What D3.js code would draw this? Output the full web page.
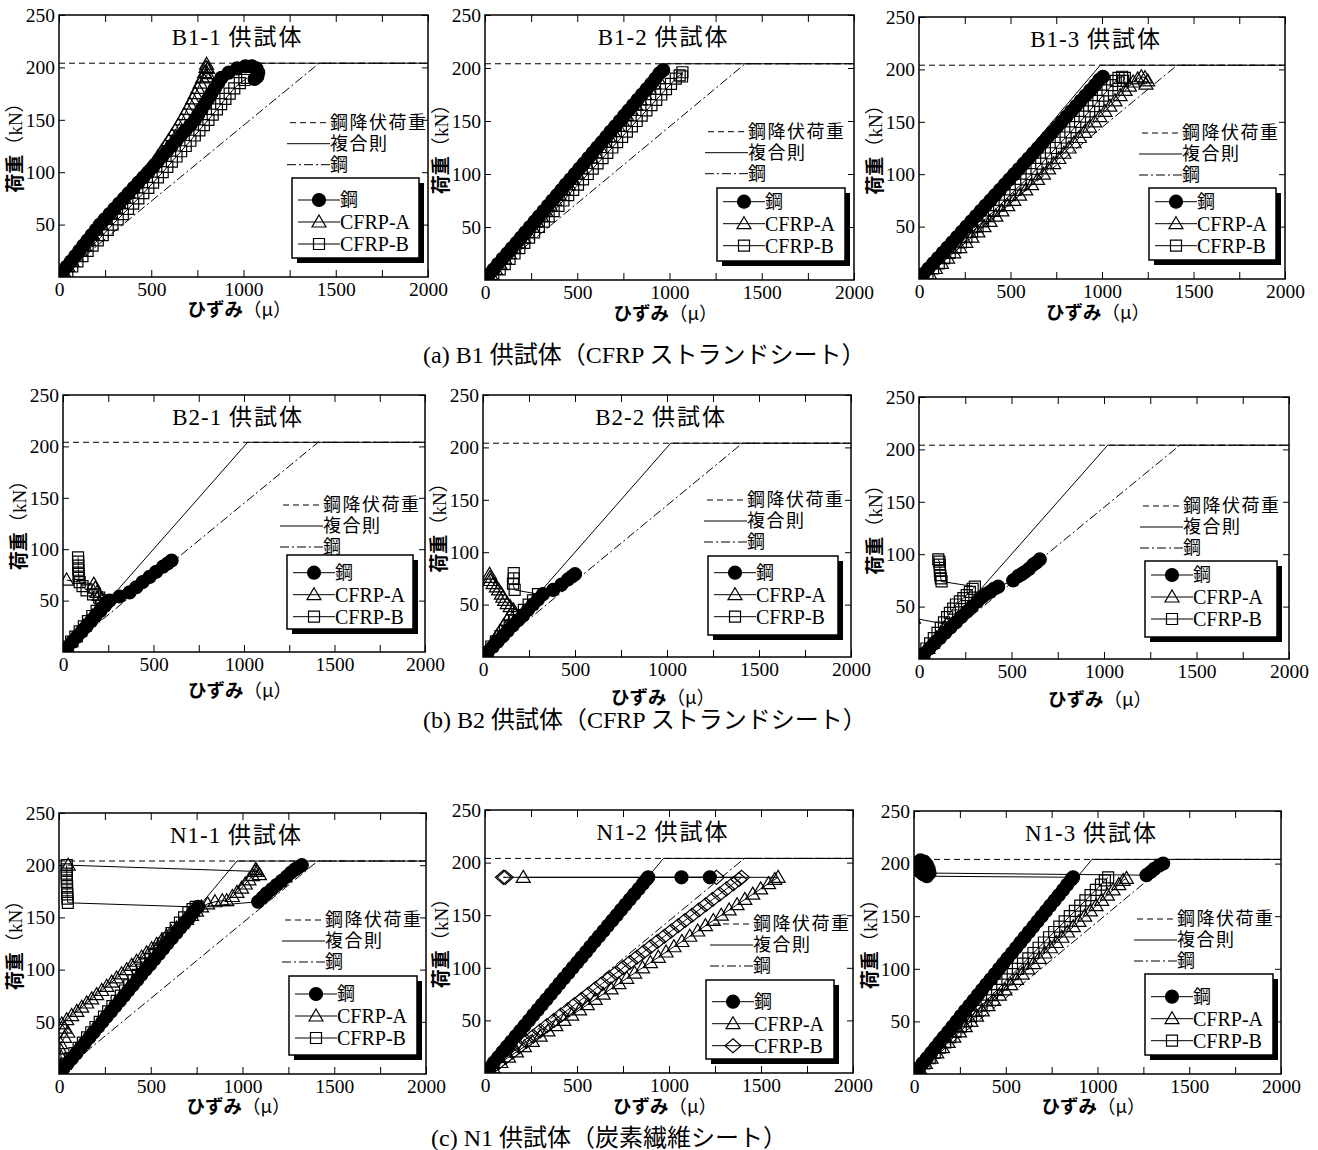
<!DOCTYPE html>
<html lang="ja">
<head>
<meta charset="utf-8">
<script src="https://cdn.jsdelivr.net/npm/d3@7"></script>
<style>
  body { margin: 0; background: #fff; }
  svg text { fill: #000; }
</style>
</head>
<body>
<svg id="fig" width="1318" height="1150"></svg>
<script>
// ---- common values (kN, micro strain) ----
var yieldLoad = 204;          // 鋼降伏荷重
var steelYieldStrain = 1410;  // 鋼 line reaches yield here
var compYieldStrain = [990, 1020, 970]; // 複合則, per row (B1, B2, N1)
var xTicks = [0, 250, 500, 750, 1000, 1250, 1500, 1750, 2000];
var yTicks = [50, 100, 150, 200, 250];
var lineLegendLabels = ["鋼降伏荷重", "複合則", "鋼"];
var boxLegendLabels = ["鋼", "CFRP-A", "CFRP-B"];
var captions = ["(a) B1 供試体（CFRP ストランドシート）", "(b) B2 供試体（CFRP ストランドシート）", "(c) N1 供試体（炭素繊維シート）"];

// ---- B1-1 ----
var b11Steel = [[0,0],[20,5],[42,10],[65,15],[88,20],[110,25],[132,30],[155,35],[177,40],[200,45],[222,50],[248,55],[274,60],[300,65],[326,70],[352,75],[378,80],[404,85],[430,90],[457,95],[484,100],[510,105],[535,110],[560,115],[585,120],[610,125],[636,130],[661,135],[686,140],[712,145],[737,150],[755,155],[773,160],[791,165],[809,170],[826,175],[845,180],[863,185],[880,190],[920,195],[965,199],[1010,201],[1045,201],[1070,199],[1080,195],[1075,191],[1060,189]];
var b11A = [[0,0],[25,5],[48,10],[70,15],[93,20],[115,25],[137,30],[160,35],[182,40],[205,45],[227,50],[252,55],[277,60],[302,65],[327,70],[352,75],[376,80],[400,85],[424,90],[448,95],[472,100],[495,105],[518,110],[537,115],[556,120],[575,125],[594,130],[612,135],[630,140],[647,145],[664,150],[680,155],[695,160],[710,165],[724,170],[738,175],[752,180],[765,185],[778,190],[789,195],[797,200],[800,203],[806,199],[804,194],[800,191]];
var b11B = [[20,0],[45,5],[72,10],[100,15],[127,20],[155,25],[182,30],[210,35],[237,40],[264,45],[290,50],[318,55],[346,60],[374,65],[402,70],[430,75],[457,80],[484,85],[510,90],[536,95],[562,100],[587,105],[612,110],[637,115],[662,120],[687,125],[712,130],[736,135],[761,140],[785,145],[810,150],[833,155],[856,160],[879,165],[902,170],[925,175],[950,180],[980,185],[1005,188],[1020,190]];

// ---- B1-2 ----
var b12Steel = [[0,0],[22,5],[46,10],[70,15],[95,20],[120,25],[145,30],[170,35],[195,40],[219,45],[243,50],[268,55],[292,60],[317,65],[341,70],[365,75],[390,80],[414,85],[438,90],[463,95],[487,100],[511,105],[536,110],[560,115],[584,120],[608,125],[633,130],[657,135],[681,140],[706,145],[730,150],[754,155],[778,160],[803,165],[827,170],[851,175],[876,180],[900,185],[924,190],[946,195],[966,198]];
var b12A = [[0,0],[32,5],[57,10],[82,15],[107,20],[132,25],[157,30],[182,35],[207,40],[231,45],[256,50],[280,55],[305,60],[329,65],[354,70],[378,75],[403,80],[427,85],[452,90],[476,95],[500,100],[525,105],[549,110],[574,115],[598,120],[622,125],[647,130],[671,135],[695,140],[720,145],[744,150],[768,155],[793,160],[817,165],[841,170],[866,175],[890,180],[914,185],[938,190]];
var b12B = [[0,0],[45,5],[80,10],[107,15],[133,20],[160,25],[186,30],[213,35],[239,40],[266,45],[292,50],[319,55],[345,60],[372,65],[398,70],[425,75],[451,80],[478,85],[504,90],[531,95],[557,100],[584,105],[610,110],[637,115],[663,120],[690,125],[716,130],[743,135],[769,140],[796,145],[822,150],[849,155],[875,160],[902,165],[928,170],[955,175],[981,180],[1008,185],[1034,190],[1055,193],[1070,196],[1068,192]];

// ---- B1-3 ----
var b13Steel = [[0,0],[26,5],[52,10],[78,15],[104,20],[130,25],[156,30],[182,35],[208,40],[234,45],[260,50],[286,55],[312,60],[338,65],[364,70],[390,75],[416,80],[442,85],[468,90],[494,95],[520,100],[546,105],[572,110],[598,115],[624,120],[650,125],[676,130],[702,135],[728,140],[754,145],[780,150],[806,155],[832,160],[858,165],[884,170],[910,175],[936,180],[962,185],[985,190],[1005,193]];
var b13A = [[24,0],[57,5],[90,10],[123,15],[156,20],[190,25],[223,30],[256,35],[289,40],[322,45],[355,50],[388,55],[420,60],[453,65],[485,70],[518,75],[550,80],[583,85],[615,90],[648,95],[680,100],[708,105],[736,110],[764,115],[792,120],[820,125],[848,130],[876,135],[904,140],[932,145],[960,150],[988,155],[1016,160],[1043,165],[1071,170],[1099,175],[1126,180],[1150,184],[1170,188],[1195,191],[1215,193],[1235,192],[1250,189],[1240,186]];
var b13B = [[15,0],[46,5],[77,10],[108,15],[138,20],[168,25],[199,30],[229,35],[259,40],[290,45],[320,50],[350,55],[379,60],[409,65],[438,70],[468,75],[497,80],[527,85],[556,90],[586,95],[615,100],[642,105],[668,110],[695,115],[721,120],[748,125],[774,130],[801,135],[827,140],[854,145],[880,150],[905,155],[930,160],[955,165],[980,170],[1005,175],[1030,180],[1055,185],[1075,189],[1090,192],[1110,193],[1125,192],[1115,189]];

// ---- B2-1 ----
var b21Steel = [[0,0],[26,5],[52,10],[78,15],[104,20],[130,25],[155,30],[180,35],[206,40],[232,45],[258,50],[312,54],[368,58],[405,63],[440,68],[478,73],[515,78],[552,83],[578,86],[600,89]];
var b21A = [[0,0],[22,5],[45,10],[68,15],[92,20],[115,25],[138,30],[162,35],[186,40],[210,45],[232,49],[215,52],[200,55],[188,58],[178,62],[170,66],[20,70]];
var b21B = [[0,0],[22,5],[45,10],[68,15],[92,20],[115,25],[138,30],[162,35],[186,40],[210,45],[235,50],[200,53],[166,56],[130,60],[108,64],[92,68],[88,72],[86,76],[85,80],[84,84],[84,88],[83,92]];

// ---- B2-2 ----
var b22Steel = [[0,0],[27,5],[54,10],[81,15],[108,20],[135,25],[162,30],[190,35],[218,40],[245,45],[272,50],[299,55],[326,60],[381,64],[426,69],[462,74],[485,77],[500,79]];
var b22A = [[0,0],[20,5],[40,10],[58,15],[76,20],[94,25],[112,30],[130,35],[148,40],[165,45],[148,48],[132,51],[118,54],[108,57],[100,60],[85,64],[73,67],[55,70],[40,73],[38,76],[36,79]];
var b22B = [[0,0],[22,5],[45,10],[70,15],[95,20],[120,25],[145,30],[170,35],[196,40],[222,45],[248,50],[272,54],[299,60],[172,64],[163,70],[167,75],[167,80]];

// ---- B2-3 ----
var b23Steel = [[0,0],[28,5],[56,10],[85,15],[113,20],[142,25],[170,30],[200,35],[228,40],[258,45],[287,50],[316,55],[340,59],[362,62],[383,64],[405,67],[428,69],[509,75],[536,79],[555,81],[572,83],[595,86],[617,90],[635,92],[653,95]];
var b23A = [[0,0],[24,5],[48,10],[72,15],[95,20],[118,25],[138,30],[150,33],[-30,39]];
var b23B = [[0,0],[20,5],[40,10],[60,15],[80,20],[100,25],[118,30],[135,35],[152,40],[167,44],[185,48],[200,52],[221,55],[240,58],[258,61],[275,64],[290,67],[302,69],[122,74],[118,77],[115,80],[113,84],[113,87],[112,90],[110,93],[104,95]];

// ---- N1-1 ----
var n11Steel = [[0,0],[24,5],[47,10],[71,15],[95,20],[118,25],[142,30],[166,35],[189,40],[213,45],[237,50],[260,55],[284,60],[307,65],[331,70],[355,75],[378,80],[402,85],[426,90],[449,95],[473,100],[497,105],[520,110],[544,115],[568,120],[591,125],[615,130],[639,135],[662,140],[686,145],[710,150],[733,155],[757,160],[1085,165],[1110,169],[1132,173],[1160,177],[1186,181],[1214,185],[1241,189],[1265,193],[1287,196],[1305,198],[1323,200]];
var n11A = [[0,0],[8,8],[12,16],[5,24],[8,29],[30,35],[48,40],[30,44],[15,48],[42,52],[69,56],[97,60],[124,64],[151,68],[178,72],[205,76],[233,80],[260,84],[287,88],[314,92],[341,96],[369,100],[396,104],[423,108],[450,112],[477,116],[505,120],[532,124],[559,128],[586,132],[613,136],[641,140],[668,144],[695,148],[722,152],[749,156],[777,160],[810,163],[850,165],[890,166],[914,166],[945,170],[970,174],[995,178],[1015,182],[1035,186],[1055,190],[1068,194],[1072,196],[1092,191],[1080,194],[50,200]];
var n11B = [[0,0],[15,5],[38,10],[61,15],[84,20],[107,25],[130,30],[153,35],[176,40],[199,45],[222,50],[245,55],[268,60],[291,65],[314,70],[337,75],[360,80],[383,85],[406,90],[429,95],[452,100],[475,105],[498,110],[521,115],[544,120],[567,125],[590,130],[613,135],[636,140],[659,145],[682,150],[705,155],[728,158],[745,160],[48,164],[46,168],[45,172],[44,176],[44,180],[43,184],[43,188],[42,192],[42,196],[42,200]];

// ---- N1-2 ----
var n12Steel = [[0,0],[24,5],[48,10],[72,15],[95,20],[119,25],[143,30],[167,35],[191,40],[215,45],[239,50],[262,55],[286,60],[310,65],[334,70],[358,75],[382,80],[405,85],[429,90],[453,95],[477,100],[501,105],[525,110],[549,115],[572,120],[596,125],[620,130],[644,135],[668,140],[692,145],[716,150],[739,155],[763,160],[787,165],[811,170],[835,175],[859,180],[877,184],[887,186],[1068,186],[1222,186]];
var n12A = [[0,0],[43,5],[86,10],[128,15],[171,20],[214,25],[257,30],[300,35],[342,40],[385,45],[428,50],[471,55],[514,60],[556,65],[599,70],[642,75],[685,80],[728,85],[770,90],[813,95],[856,100],[899,105],[942,110],[984,115],[1027,120],[1070,125],[1113,130],[1156,135],[1198,140],[1241,145],[1284,150],[1327,155],[1370,160],[1412,165],[1455,170],[1498,175],[1541,180],[1575,184],[1593,186],[208,186]];
var n12B = [[0,0],[37,5],[75,10],[112,15],[150,20],[187,25],[225,30],[262,35],[300,40],[337,45],[375,50],[412,55],[450,60],[487,65],[525,70],[562,75],[600,80],[637,85],[675,90],[712,95],[750,100],[787,105],[825,110],[862,115],[900,120],[937,125],[975,130],[1012,135],[1050,140],[1087,145],[1125,150],[1162,155],[1200,160],[1237,165],[1275,170],[1312,175],[1350,180],[1380,184],[1394,186],[1258,186],[100,186],[110,186]];

// ---- N1-3 ----
var n13Steel = [[0,0],[23,5],[46,10],[70,15],[93,20],[116,25],[139,30],[162,35],[186,40],[209,45],[232,50],[255,55],[278,60],[302,65],[325,70],[348,75],[371,80],[394,85],[418,90],[441,95],[464,100],[487,105],[510,110],[534,115],[557,120],[580,125],[603,130],[626,135],[650,140],[673,145],[696,150],[719,155],[742,160],[766,165],[789,170],[812,175],[835,180],[858,185],[867,187],[70,188],[50,190],[35,192],[25,195],[20,198],[22,201],[35,203],[55,202],[70,199],[80,195],[85,191],[1267,189],[1290,192],[1310,195],[1335,198],[1358,200]];
var n13A = [[0,0],[31,5],[62,10],[93,15],[124,20],[155,25],[186,30],[217,35],[248,40],[279,45],[310,50],[341,55],[372,60],[403,65],[434,70],[465,75],[496,80],[527,85],[558,90],[589,95],[620,100],[651,105],[682,110],[713,115],[744,120],[775,125],[806,130],[837,135],[868,140],[899,145],[930,150],[961,155],[992,160],[1023,165],[1054,170],[1085,175],[1116,180],[1140,184],[1158,186]];
var n13B = [[0,0],[28,5],[57,10],[85,15],[113,20],[142,25],[170,30],[198,35],[226,40],[255,45],[283,50],[311,55],[340,60],[368,65],[396,70],[425,75],[453,80],[481,85],[509,90],[538,95],[566,100],[594,105],[623,110],[651,115],[679,120],[708,125],[736,130],[764,135],[792,140],[821,145],[849,150],[877,155],[906,160],[934,165],[962,170],[991,175],[1019,180],[1040,184],[1058,187]];

// ---- layout (pixels) ----
var panels = [
  {title: "B1-1", row: 0, area: [59, 428, 15, 277],    lineLeg: [290, 122.7], boxLeg: [292, 178, 127, 80], entryY: 200,  xlabY: 307,  data: [b11B, b11A, b11Steel], mk: ["square", "triangle", "circle"]},
  {title: "B1-2", row: 0, area: [485, 854, 15, 280],   lineLeg: [708, 131.7], boxLeg: [717, 188, 128, 73], entryY: 201.7, xlabY: 311, data: [b12B, b12A, b12Steel], mk: ["square", "triangle", "circle"]},
  {title: "B1-3", row: 0, area: [919, 1285, 17, 279],  lineLeg: [1142, 133],  boxLeg: [1149, 188, 127, 72], entryY: 201.7, xlabY: 310, data: [b13B, b13A, b13Steel], mk: ["square", "triangle", "circle"]},
  {title: "B2-1", row: 1, area: [63, 425, 395, 652],   lineLeg: [283, 505],   boxLeg: [287, 555, 126, 74], entryY: 572.7, xlabY: 688, data: [b21B, b21A, b21Steel], mk: ["square", "triangle", "circle"]},
  {title: "B2-2", row: 1, area: [483, 851, 395, 657],  lineLeg: [707, 500],   boxLeg: [708, 556, 130, 79], entryY: 572.7, xlabY: 695, data: [b22B, b22A, b22Steel], mk: ["square", "triangle", "circle"]},
  {title: null,   row: 1, area: [919, 1289, 397, 659], lineLeg: [1143, 506],  boxLeg: [1145, 561, 132, 76], entryY: 575, xlabY: 697,  data: [b23B, b23A, b23Steel], mk: ["square", "triangle", "circle"]},
  {title: "N1-1", row: 2, area: [59, 426, 813, 1074],  lineLeg: [285, 920],   boxLeg: [289, 976, 128, 79], entryY: 994,  xlabY: 1104, data: [n11B, n11A, n11Steel], mk: ["square", "triangle", "circle"]},
  {title: "N1-2", row: 2, area: [485, 853, 810, 1073], lineLeg: [713, 924],   boxLeg: [706, 980, 128, 79], entryY: 1001.7, xlabY: 1104, data: [n12B, n12A, n12Steel], mk: ["diamond", "triangle", "circle"]},
  {title: "N1-3", row: 2, area: [914, 1281, 811, 1074],lineLeg: [1137, 919],  boxLeg: [1145, 974, 128, 81], entryY: 996.7, xlabY: 1104, data: [n13B, n13A, n13Steel], mk: ["square", "triangle", "circle"]}
];
var captionPos = [[423, 363], [423, 728], [431, 1146]];

var serif = "'Liberation Serif', 'Noto Sans CJK JP', serif";
var gothic = "'Noto Sans CJK JP', sans-serif";

var markerPath = {
  circle: "M6.5,0A6.5,6.5 0 1,1 -6.5,0A6.5,6.5 0 1,1 6.5,0Z",
  triangle: "M0,-7L7,5L-7,5Z",
  square: "M-5.5,-5.5H5.5V5.5H-5.5Z",
  diamond: "M0,-7L8,0L0,7L-8,0Z"
};
function styleMarker(sel, kind) {
  sel.attr("d", markerPath[kind])
     .attr("fill", kind === "circle" ? "#000" : "none")
     .attr("stroke", "#000")
     .attr("stroke-width", 1.2);
}

var svg = d3.select("#fig");

function drawPanel(p, pi) {
  var x = d3.scaleLinear().domain([0, 2000]).range([p.area[0], p.area[1]]);
  var y = d3.scaleLinear().domain([0, 250]).range([p.area[3], p.area[2]]);
  var g = svg.append("g");
  var line = d3.line().x(function(d) { return x(d[0]); }).y(function(d) { return y(d[1]); });
  var cs = compYieldStrain[p.row];

  svg.append("clipPath").attr("id", "clip" + pi).append("rect")
    .attr("x", p.area[0]).attr("y", p.area[2])
    .attr("width", p.area[1] - p.area[0]).attr("height", p.area[3] - p.area[2]);
  var plot = g.append("g").attr("clip-path", "url(#clip" + pi + ")");

  // reference lines
  plot.append("path").attr("d", line([[0, yieldLoad], [2000, yieldLoad]]))
    .attr("fill", "none").attr("stroke", "#000").attr("stroke-width", 1).attr("stroke-dasharray", "6,4");
  plot.append("path").attr("d", line([[0, 0], [cs, yieldLoad], [2000, yieldLoad]]))
    .attr("fill", "none").attr("stroke", "#000").attr("stroke-width", 1);
  plot.append("path").attr("d", line([[0, 0], [steelYieldStrain, yieldLoad], [2000, yieldLoad]]))
    .attr("fill", "none").attr("stroke", "#000").attr("stroke-width", 1).attr("stroke-dasharray", "9,3,2,3");

  // measured series
  p.data.forEach(function(s, i) {
    plot.append("path").attr("d", line(s))
      .attr("fill", "none").attr("stroke", "#000").attr("stroke-width", 1);
    plot.selectAll(null).data(s).enter().append("path")
      .call(styleMarker, p.mk[i])
      .attr("transform", function(d) { return "translate(" + x(d[0]) + "," + y(d[1]) + ")"; });
  });

  // axes with inward ticks
  g.append("g").attr("transform", "translate(0," + p.area[3] + ")")
    .call(d3.axisBottom(x).tickValues(xTicks).tickSize(-7).tickSizeOuter(0).tickPadding(5)
      .tickFormat(function(d) { return d % 500 === 0 ? d : ""; }));
  g.append("g").attr("transform", "translate(0," + p.area[2] + ")")
    .call(d3.axisTop(x).tickValues(xTicks).tickSize(-7).tickSizeOuter(0).tickFormat(""));
  g.append("g").attr("transform", "translate(" + p.area[0] + ",0)")
    .call(d3.axisLeft(y).tickValues(yTicks).tickSize(-6).tickSizeOuter(0).tickPadding(4));
  g.append("g").attr("transform", "translate(" + p.area[1] + ",0)")
    .call(d3.axisRight(y).tickValues(yTicks).tickSize(-6).tickSizeOuter(0).tickFormat(""));
  g.selectAll(".domain").remove();
  g.selectAll(".tick line").attr("stroke", "#000").attr("stroke-width", 1);
  g.selectAll(".tick text").attr("font-family", serif).attr("font-size", 19.5).attr("fill", "#000");

  g.append("rect")
    .attr("x", p.area[0]).attr("y", p.area[2])
    .attr("width", p.area[1] - p.area[0]).attr("height", p.area[3] - p.area[2])
    .attr("fill", "none").attr("stroke", "#000").attr("stroke-width", 1.5);

  // title
  var cx = (p.area[0] + p.area[1]) / 2 - 6;
  if (p.title) {
    var t = g.append("text").attr("x", cx).attr("y", p.area[2] + 30)
      .attr("text-anchor", "middle").attr("font-family", serif).attr("font-size", 23);
    t.append("tspan").attr("letter-spacing", 1).text(p.title + " ");
    t.append("tspan").attr("letter-spacing", 2).text("供試体");
  }

  // axis labels
  var xl = g.append("text").attr("x", cx + 2).attr("y", p.xlabY + 9)
    .attr("text-anchor", "middle").attr("font-size", 18.5);
  xl.append("tspan").attr("font-family", gothic).attr("font-weight", "bold").text("ひずみ");
  xl.append("tspan").attr("font-family", gothic).text("（μ）");
  var my = (p.area[2] + p.area[3]) / 2 - 3;
  var yl = g.append("text").attr("transform", "translate(" + (p.area[0] - 37) + "," + my + ") rotate(-90)")
    .attr("text-anchor", "middle").attr("font-size", 19);
  yl.append("tspan").attr("font-family", gothic).attr("font-weight", "bold").text("荷重");
  yl.append("tspan").attr("font-family", gothic).text("（");
  yl.append("tspan").attr("font-family", serif).text("kN");
  yl.append("tspan").attr("font-family", gothic).text("）");

  // reference-line legend
  var dashes = ["6,4", null, "9,3,2,3"];
  lineLegendLabels.forEach(function(lab, i) {
    var ly = p.lineLeg[1] + i * 21;
    g.append("line").attr("x1", p.lineLeg[0] - (i ? 3 : 0)).attr("x2", p.lineLeg[0] + 40)
      .attr("y1", ly).attr("y2", ly).attr("stroke", "#000").attr("stroke-width", 1)
      .attr("stroke-dasharray", dashes[i]);
    g.append("text").attr("x", p.lineLeg[0] + 40).attr("y", ly).attr("dy", "0.36em")
      .attr("font-family", gothic).attr("font-size", 18).attr("letter-spacing", 1.5).text(lab);
  });

  // boxed marker legend
  var b = p.boxLeg;
  g.append("rect").attr("x", b[0] + 5).attr("y", b[1] + 5).attr("width", b[2]).attr("height", b[3]).attr("fill", "#000");
  g.append("rect").attr("x", b[0]).attr("y", b[1]).attr("width", b[2]).attr("height", b[3])
    .attr("fill", "#fff").attr("stroke", "#000").attr("stroke-width", 1.5);
  var legMk = ["circle", "triangle", p.mk[0]];
  boxLegendLabels.forEach(function(lab, i) {
    var ey = p.entryY + i * 22;
    g.append("line").attr("x1", b[0] + 6).attr("x2", b[0] + 48).attr("y1", ey).attr("y2", ey)
      .attr("stroke", "#000").attr("stroke-width", 1);
    g.append("path").call(styleMarker, legMk[i]).attr("transform", "translate(" + (b[0] + 27) + "," + ey + ")");
    g.append("text").attr("x", b[0] + 48).attr("y", ey).attr("dy", "0.36em")
      .attr("font-family", i === 0 ? gothic : serif).attr("font-size", i === 0 ? 18 : 20).text(lab);
  });
}

panels.forEach(drawPanel);

captions.forEach(function(c, i) {
  svg.append("text").attr("x", captionPos[i][0]).attr("y", captionPos[i][1])
    .attr("font-family", serif).attr("font-size", 24).text(c);
});
</script>
</body>
</html>
